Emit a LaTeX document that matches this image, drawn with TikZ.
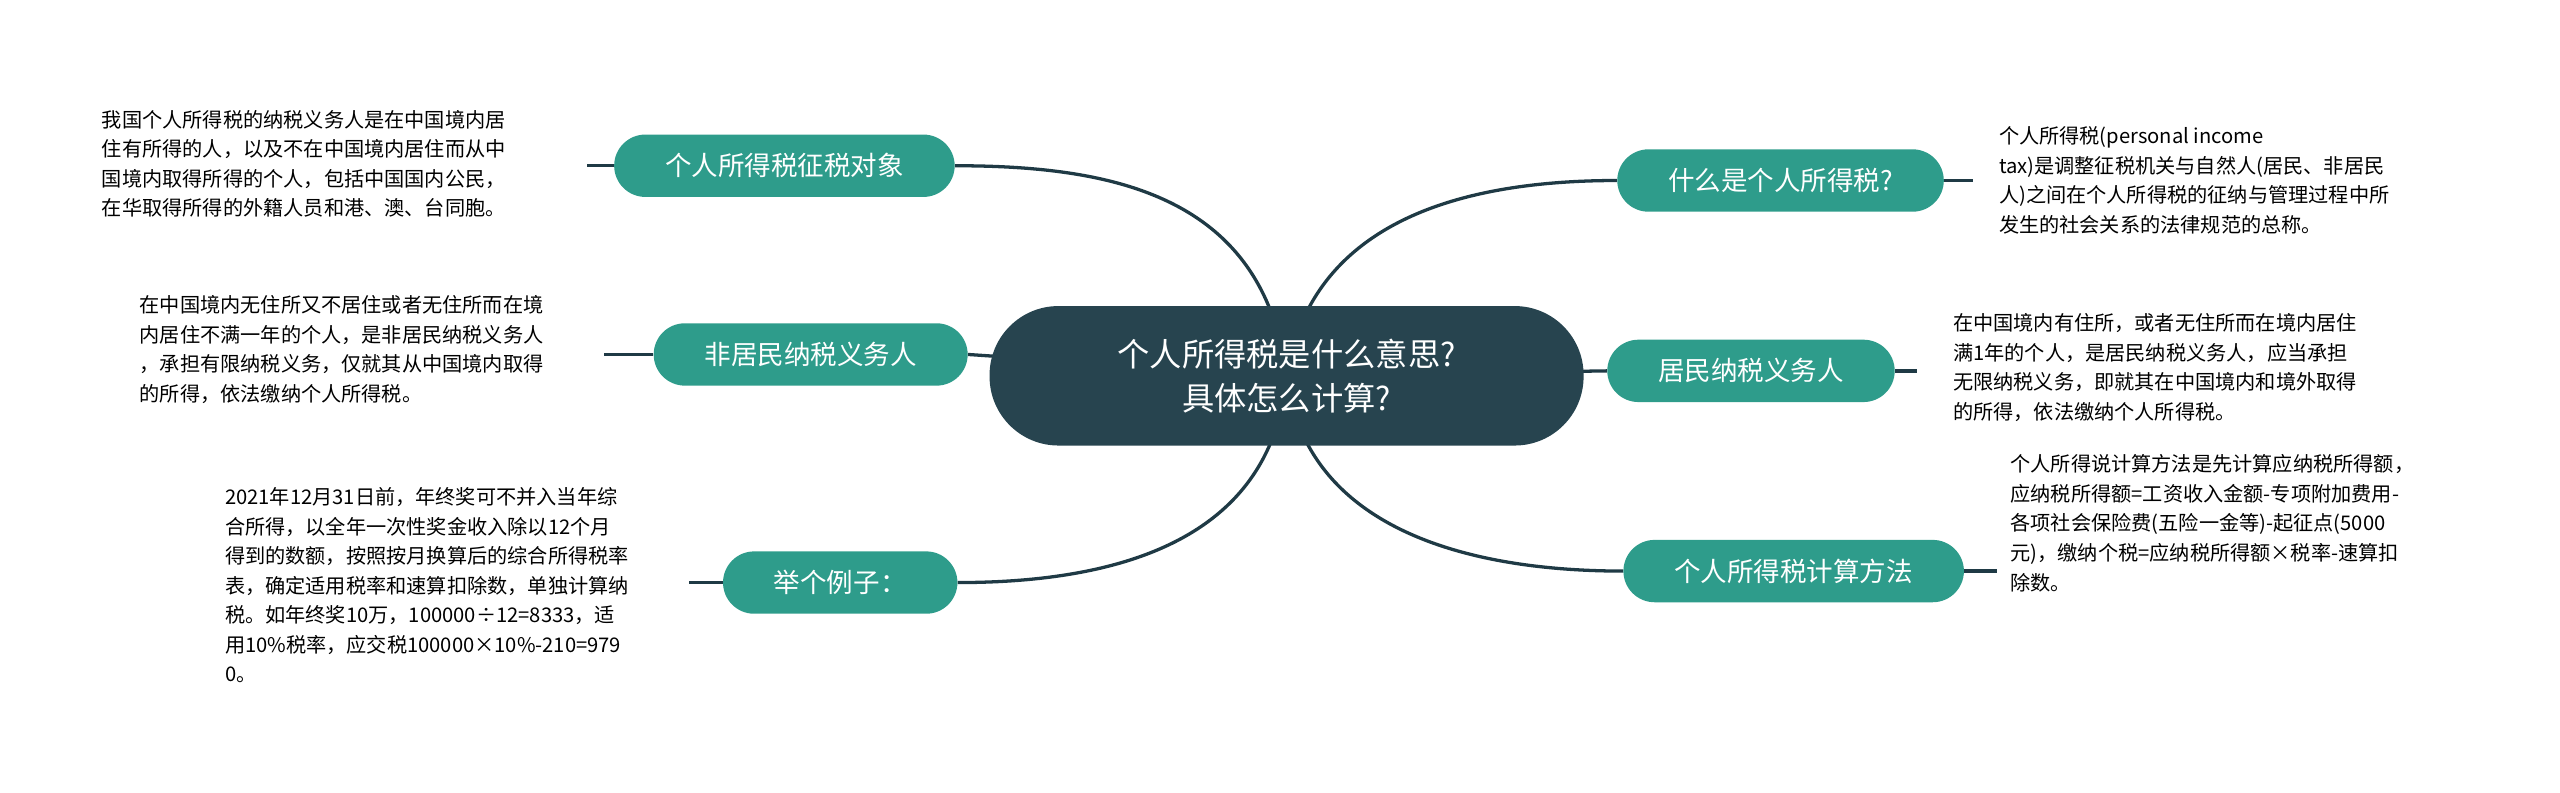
\documentclass[tikz,border=0pt]{standalone}
\usepackage{fontspec}
\setmainfont{Noto Sans CJK SC}
\usetikzlibrary{backgrounds}
\definecolor{branch}{HTML}{2E9C8B}
\definecolor{core}{HTML}{27444F}
\definecolor{wire}{HTML}{1F3A45}
\tikzset{
 branchbox/.style={fill=branch,text=white,rounded corners=9.5mm,minimum height=1.9cm,inner xsep=1.55cm,font=\fontsize{23}{26}\selectfont},
 corebox/.style={fill=core,text=white,rounded corners=2.1cm,minimum height=4.25cm,minimum width=18.1cm,align=center,font=\fontsize{28}{38}\selectfont},
 desc/.style={align=left,inner sep=0pt,font=\fontsize{17.5}{25.6}\selectfont,text=black},
 wirel/.style={draw=wire,line width=1mm}
}
\begin{document}
\begin{tikzpicture}[x=0.05cm,y=-0.05cm]
\useasboundingbox (0,0) rectangle (1560,483);
\node[corebox] (c) at (784,229) {个人所得税是什么意思?\\具体怎么计算?};
\node[branchbox] (l1) at (478,101) {个人所得税征税对象};
\node[branchbox] (l2) at (494,216) {非居民纳税义务人};
\node[branchbox] (l3) at (512,355) {举个例子：};
\node[branchbox] (r1) at (1085,110) {什么是个人所得税?};
\node[branchbox] (r2) at (1067,226) {居民纳税义务人};
\node[branchbox] (r3) at (1093,348) {个人所得税计算方法};
\node[desc,anchor=north west] (t1) at (62,67) {我国个人所得税的纳税义务人是在中国境内居\\住有所得的人，以及不在中国境内居住而从中\\国境内取得所得的个人，包括中国国内公民，\\在华取得所得的外籍人员和港、澳、台同胞。};
\node[desc,anchor=north west] (t2) at (85,180) {在中国境内无住所又不居住或者无住所而在境\\内居住不满一年的个人，是非居民纳税义务人\\，承担有限纳税义务，仅就其从中国境内取得\\的所得，依法缴纳个人所得税。};
\node[desc,anchor=north west] (t3) at (137,297) {2021年12月31日前，年终奖可不并入当年综\\合所得，以全年一次性奖金收入除以12个月\\得到的数额，按照按月换算后的综合所得税率\\表，确定适用税率和速算扣除数，单独计算纳\\税。如年终奖10万，100000÷12=8333，适\\用10\%税率，应交税100000×10\%-210=979\\0。};
\node[desc,anchor=north west] (t4) at (1218,77) {个人所得税(personal income\\tax)是调整征税机关与自然人(居民、非居民\\人)之间在个人所得税的征纳与管理过程中所\\发生的社会关系的法律规范的总称。};
\node[desc,anchor=north west] (t5) at (1190,191) {在中国境内有住所，或者无住所而在境内居住\\满1年的个人，是居民纳税义务人，应当承担\\无限纳税义务，即就其在中国境内和境外取得\\的所得，依法缴纳个人所得税。};
\node[desc,anchor=north west] (t6) at (1225,277) {个人所得说计算方法是先计算应纳税所得额，\\应纳税所得额=工资收入金额-专项附加费用-\\各项社会保险费(五险一金等)-起征点(5000\\元)，缴纳个税=应纳税所得额×税率-速算扣\\除数。};
\coordinate (e1) at (358,101);
\coordinate (e2) at (368,216);
\coordinate (e3) at (420,355);
\coordinate (e4) at (1202,110);
\coordinate (e5) at (1168,226);
\coordinate (e6) at (1217,348);
\begin{scope}[on background layer]
\draw[wirel] (c.center) .. controls (770,120) and (680,101) .. (l1.east);
\draw[wirel] (c.center) -- (l2.east);
\draw[wirel] (c.center) .. controls (775,330) and (680,355) .. (l3.east);
\draw[wirel] (c.center) .. controls (800,130) and (900,110) .. (r1.west);
\draw[wirel] (c.center) -- (r2.west);
\draw[wirel] (c.center) .. controls (795,320) and (890,348) .. (r3.west);
\draw[wirel] (l1.west) -- (e1);
\draw[wirel] (l2.west) -- (e2);
\draw[wirel] (l3.west) -- (e3);
\draw[wirel] (r1.east) -- (e4);
\draw[wirel] (r2.east) -- (e5);
\draw[wirel] (r3.east) -- (e6);
\end{scope}
\end{tikzpicture}
\end{document}
